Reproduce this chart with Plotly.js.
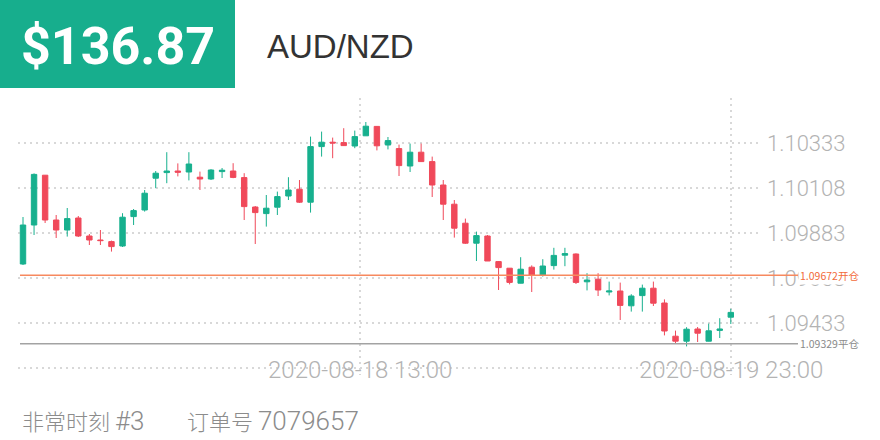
<!DOCTYPE html>
<html>
<head>
<meta charset="utf-8">
<script src="https://cdn.plot.ly/plotly-3.0.1.min.js"></script>
<style>html,body{margin:0;padding:0;background:#fff;}#chart{width:880px;height:440px;}</style>
</head>
<body>
<div id="chart"></div>
<script>
// ---- data ----
const candleIndex = [0,1,2,3,4,5,6,7,8,9,10,11,12,13,14,15,16,17,18,19,20,21,22,23,24,25,26,27,28,29,30,31,32,33,34,35,36,37,38,39,40,41,42,43,44,45,46,47,48,49,50,51,52,53,54,55,56,57,58,59,60,61,62,63,64];
const opens = [1.09728,1.09923,1.10172,1.09948,1.09898,1.09958,1.09868,1.09848,1.09840,1.09818,
1.09965,1.09998,1.10157,1.10185,1.10193,1.10188,1.10162,1.10153,1.10190,1.10193,
1.10160,1.10013,1.09980,1.10012,1.10068,1.10102,1.10037,1.10315,1.10337,1.10335,
1.10318,1.10369,1.10416,1.10323,1.10305,1.10218,1.10287,1.10240,1.10123,1.10027,
1.09932,1.09832,1.09868,1.09740,1.09707,1.09632,1.09712,1.09673,1.09720,1.09772,
1.09778,1.09639,1.09652,1.09588,1.09593,1.09519,1.09570,1.09607,1.09533,1.09367,
1.09342,1.09403,1.09342,1.09396,1.09462];
const highs = [1.09963,1.10181,1.10173,1.09973,1.10008,1.09968,1.09878,1.09898,1.09845,1.09982,
1.10003,1.10098,1.10193,1.10287,1.10231,1.10287,1.10190,1.10202,1.10208,1.10232,
1.10182,1.10018,1.10073,1.10090,1.10162,1.10148,1.10365,1.10390,1.10360,1.10407,
1.10395,1.10438,1.10418,1.10363,1.10325,1.10330,1.10330,1.10265,1.10148,1.10048,
1.09955,1.09890,1.09873,1.09743,1.09708,1.09762,1.09721,1.09752,1.09809,1.09809,
1.09781,1.09682,1.09682,1.09640,1.09635,1.09577,1.09625,1.09640,1.09551,1.09395,
1.09412,1.09413,1.09430,1.09457,1.09504];
const lows = [1.09723,1.09873,1.09933,1.09858,1.09865,1.09863,1.09823,1.09823,1.09790,1.09813,
1.09923,1.09990,1.10107,1.10132,1.10166,1.10146,1.10098,1.10148,1.10158,1.10157,
1.09948,1.09828,1.09915,1.09973,1.10048,1.10033,1.09985,1.10265,1.10257,1.10318,
1.10307,1.10368,1.10296,1.10301,1.10168,1.10188,1.10238,1.10063,1.09948,1.09860,
1.09828,1.09743,1.09743,1.09598,1.09626,1.09631,1.09588,1.09665,1.09700,1.09717,
1.09628,1.09596,1.09568,1.09571,1.09448,1.09490,1.09490,1.09518,1.09371,1.09332,
1.09316,1.09338,1.09341,1.09358,1.09428];
const closes = [1.09923,1.10176,1.09948,1.09898,1.09955,1.09868,1.09848,1.09845,1.09815,1.09962,
1.09995,1.10082,1.10182,1.10193,1.10187,1.10228,1.10153,1.10198,1.10197,1.10161,
1.10015,1.09985,1.10007,1.10065,1.10098,1.10037,1.10315,1.10337,1.10333,1.10320,
1.10365,1.10417,1.10319,1.10345,1.10220,1.10287,1.10240,1.10123,1.10027,1.09907,
1.09832,1.09870,1.09743,1.09710,1.09636,1.09702,1.09673,1.09718,1.09771,1.09780,
1.09636,1.09648,1.09598,1.09593,1.09521,1.09568,1.09607,1.09532,1.09393,1.09342,
1.09402,1.09382,1.09394,1.09403,1.09486];

const yTickVals = [1.10558, 1.10333, 1.10108, 1.09883, 1.09658, 1.09433, 1.09208];
const yTickText = ['', '1.10333', '1.10108', '1.09883', '1.09658', '1.09433', ''];
const xTickVals = [30.5, 64];
const xTickText = ['2020-08-18 13:00', '2020-08-19 23:00'];

const openPrice = 1.09672;
const openLabel = '1.09672开仓';
const closePrice = 1.09329;
const closeLabel = '1.09329平仓';

const priceText = '$136.87';
const pairText = 'AUD/NZD';
const footerLeft = ['非常时刻', '#3'];
const footerRight = ['订单号', '7079657'];

// ---- layout helpers (pixel -> paper) ----
const PL = 18, PR = 760, PT = 98, PB = 375;
const px = v => (v - PL) / (PR - PL);
const py = v => (PB - v) / (PB - PT);

const GREEN = '#17b08e', RED = '#f0495a';
const GRID = '#d8d8d8';

const trace = {
  type: 'candlestick',
  x: candleIndex, open: opens, high: highs, low: lows, close: closes,
  increasing: {line: {color: GREEN, width: 1}, fillcolor: GREEN},
  decreasing: {line: {color: RED, width: 1}, fillcolor: RED},
  whiskerwidth: 0,
  hoverinfo: 'skip'
};

const tickFont = {family: 'Roboto, "Liberation Sans", sans-serif', size: 22, color: '#b3b3b3', weight: 300};
const xLabFont = {family: 'Roboto, "Liberation Sans", sans-serif', size: 24, color: '#b3b3b3', weight: 300};
const latin = s => '<span style="font-family:Roboto;font-size:26px">' + s + '</span>';

const annotations = [
  {text: priceText, xref: 'paper', yref: 'paper', x: px(117.5), y: py(46), xanchor: 'center', yanchor: 'middle',
   showarrow: false, font: {family: 'Roboto, sans-serif', size: 52, color: '#ffffff', weight: 700}},
  {text: pairText, xref: 'paper', yref: 'paper', x: px(265), y: py(46), xanchor: 'left', yanchor: 'middle',
   showarrow: false, font: {family: '"Liberation Sans", sans-serif', size: 33, color: '#333333'}},
  {text: openLabel, xref: 'paper', yref: 'y', x: px(798), y: openPrice, xanchor: 'left', yanchor: 'middle',
   showarrow: false, bgcolor: '#ffffff', borderpad: 1,
   font: {family: '"Noto Sans CJK SC", sans-serif', size: 10.5, color: '#f26b3a'}},
  {text: closeLabel, xref: 'paper', yref: 'y', x: px(798), y: closePrice, xanchor: 'left', yanchor: 'middle',
   showarrow: false, bgcolor: '#ffffff', borderpad: 1,
   font: {family: '"Noto Sans CJK SC", sans-serif', size: 10.5, color: '#8a8a8a'}},
  {text: footerLeft[0] + ' ' + latin(footerLeft[1]), xref: 'paper', yref: 'paper', x: px(20), y: py(420),
   xanchor: 'left', yanchor: 'middle', showarrow: false,
   font: {family: '"Noto Sans CJK SC", sans-serif', size: 22, color: '#8c8c8c', weight: 300}},
  {text: footerRight[0] + ' ' + latin(footerRight[1]), xref: 'paper', yref: 'paper', x: px(185), y: py(420),
   xanchor: 'left', yanchor: 'middle', showarrow: false,
   font: {family: '"Noto Sans CJK SC", sans-serif', size: 22, color: '#8c8c8c', weight: 300}}
];
xTickVals.forEach((v, i) => annotations.push({
  text: xTickText[i], xref: 'x', yref: 'y', x: v, y: yTickVals[yTickVals.length - 1],
  xanchor: 'center', yanchor: 'middle', yshift: -2, showarrow: false, font: xLabFont
}));

const layout = {
  width: 880, height: 440,
  margin: {l: PL, r: 880 - PR, t: PT, b: 440 - PB, pad: 0},
  paper_bgcolor: '#ffffff', plot_bgcolor: '#ffffff',
  showlegend: false, hovermode: false,
  xaxis: {
    range: [-0.452, 66.64], tickvals: xTickVals, showticklabels: false, ticks: '',
    showgrid: true, gridcolor: GRID, gridwidth: 2, griddash: '2px,4px',
    zeroline: false, showline: false, rangeslider: {visible: false}, fixedrange: true
  },
  yaxis: {
    side: 'right', range: [1.09173, 1.10558], tickvals: yTickVals, ticktext: yTickText,
    tickfont: tickFont, ticks: '', showgrid: true, gridcolor: GRID, gridwidth: 2, griddash: '2px,4px',
    zeroline: false, showline: false, fixedrange: true, ticklabelstandoff: 6
  },
  shapes: [
    {type: 'rect', xref: 'paper', yref: 'paper', x0: px(0), x1: px(235), y0: py(88), y1: py(0),
     fillcolor: '#17ae8d', line: {width: 0}, layer: 'below'},
    {type: 'line', xref: 'paper', yref: 'y', x0: px(20), x1: px(798), y0: openPrice, y1: openPrice,
     line: {color: '#f7895f', width: 1.5}},
    {type: 'line', xref: 'paper', yref: 'y', x0: px(20), x1: px(798), y0: closePrice, y1: closePrice,
     line: {color: '#a3a3a3', width: 1.5}}
  ],
  annotations: annotations
};

Plotly.newPlot('chart', [trace], layout, {staticPlot: true, displayModeBar: false});
</script>
</body>
</html>
